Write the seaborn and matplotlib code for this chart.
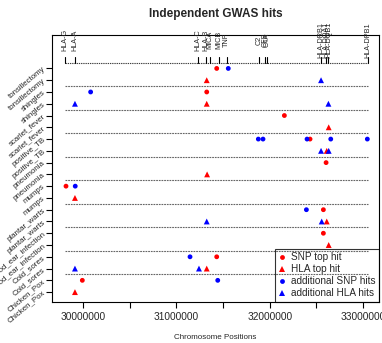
import numpy as np
import pandas as pd
import matplotlib
matplotlib.use("Agg")
import matplotlib.pyplot as plt
import seaborn as sns

# ---------------- data ----------------
traits = ["tonsillectomy", "shingles", "scarlet_fever", "positive_TB", "pneumonia",
          "mumps", "plantar_warts", "Childhood_ear_infection", "Cold_sores", "Chicken_Pox"]

# SNP top hits (red circles)
snp_top_trait = ["tonsillectomy", "shingles", "scarlet_fever", "positive_TB", "pneumonia",
                 "mumps", "plantar_warts", "Childhood_ear_infection", "Cold_sores", "Chicken_Pox"]
snp_top_pos = [31433000, 31326000, 32158000, 32433000, 32605000,
               29818000, 32576000, 32576000, 31433000, 29993000]

# HLA top hits (red triangles)
hla_top_trait = ["tonsillectomy", "shingles", "scarlet_fever", "positive_TB", "pneumonia",
                 "mumps", "plantar_warts", "Childhood_ear_infection", "Cold_sores", "Chicken_Pox"]
hla_top_pos = [31326000, 31326000, 32633000, 32612000, 31330000,
               29914000, 32612000, 32633000, 31326000, 29914000]

# additional SNP hits (blue circles)
snp_add_trait = ["tonsillectomy", "shingles", "positive_TB", "positive_TB", "positive_TB",
                 "positive_TB", "positive_TB", "mumps", "plantar_warts", "Cold_sores", "Chicken_Pox"]
snp_add_pos = [31557000, 30082000, 31879000, 31929000, 32401000,
               32655000, 33047000, 29917000, 32394000, 31147000, 31444000]

# additional HLA hits (blue triangles)
hla_add_trait = ["tonsillectomy", "shingles", "shingles", "positive_TB", "positive_TB",
                 "plantar_warts", "plantar_warts", "Cold_sores", "Cold_sores"]
hla_add_pos = [32551000, 29914000, 32630000, 32551000, 32633000,
               31326000, 32558000, 29914000, 31243000]

# genes along the top
gene_names = ["HLA-G", "HLA-A", "HLA-C", "HLA-B", "MICA", "MICB", "TNF",
              "C2", "CFB", "C4A", "HLA-DRB1", "HLA-DQA1", "HLA-DQB1", "HLA-DPB1"]
gene_pos = [29807000, 29914000, 31235000, 31318000, 31361000, 31461000, 31540000,
            31886000, 31950000, 31975000, 32550000, 32600000, 32630000, 33055000]

x_tick_pos = [30000000, 30500000, 31000000, 31500000, 32000000, 32500000, 33000000]
x_tick_lab = ["30000000", "", "31000000", "", "32000000", "", "33000000"]

kind_labels = ["SNP top hit", "HLA top hit", "additional SNP hits", "additional HLA hits"]

# ---------------- build table ----------------
n = len(traits)
circle_row = {t: 2 * (n - i) for i, t in enumerate(traits)}
tri_row = {t: 2 * (n - i) - 1 for i, t in enumerate(traits)}

rows = []
for t, p in zip(snp_top_trait, snp_top_pos):
    rows.append((p, circle_row[t], kind_labels[0]))
for t, p in zip(hla_top_trait, hla_top_pos):
    rows.append((p, tri_row[t], kind_labels[1]))
for t, p in zip(snp_add_trait, snp_add_pos):
    rows.append((p, circle_row[t], kind_labels[2]))
for t, p in zip(hla_add_trait, hla_add_pos):
    rows.append((p, tri_row[t], kind_labels[3]))
df = pd.DataFrame(rows, columns=["pos", "row", "kind"])

# ---------------- plot ----------------
sns.set_style("white")
plt.rcParams["font.family"] = ["Liberation Sans", "DejaVu Sans"]

fig = plt.figure(figsize=(3.82, 3.43), dpi=100)
ax = fig.add_axes([52 / 382, 1 - 302 / 343, (379 - 52) / 382, (302 - 35) / 343])

gmin, gmax = min(gene_pos), max(gene_pos)
# dashed separators between traits
for k in range(1, n):
    yv = 2 * k + 0.5
    ax.plot([gmin, gmax], [yv, yv], color="0.4", lw=0.8, ls=(0, (1.6, 0.8)), zorder=1)
# gene baseline and markers
top_line = 2 * n + 0.5
ax.plot([gmin, gmax], [top_line, top_line], color="0.25", lw=0.8, ls=(0, (1.2, 0.8)), zorder=1)
for g, p in zip(gene_names, gene_pos):
    ax.plot([p, p], [top_line, top_line + 0.5], color="black", lw=0.8, zorder=2)
    ax.text(p, top_line + 1.9, g, rotation=90, ha="center", va="center",
            fontsize=5.2, clip_on=False)

pal = {kind_labels[0]: "#FF0000", kind_labels[1]: "#FF0000",
       kind_labels[2]: "#0000FF", kind_labels[3]: "#0000FF"}
mk = {kind_labels[0]: "o", kind_labels[1]: "^", kind_labels[2]: "o", kind_labels[3]: "^"}
sz = {kind_labels[0]: 12, kind_labels[1]: 18, kind_labels[2]: 12, kind_labels[3]: 18}
sns.scatterplot(data=df, x="pos", y="row", hue="kind", style="kind", size="kind",
                hue_order=kind_labels, style_order=kind_labels, size_order=kind_labels,
                palette=pal, markers=mk, sizes=sz, linewidth=0, ax=ax, zorder=3, legend=True)

ax.set_xlim(29668000, 33172000)
ax.set_ylim(0.16, 22.84)

ax.set_xticks(x_tick_pos)
ax.set_xticklabels(x_tick_lab, fontsize=7.3)
ylabels = []
for t in traits:
    ylabels += [t, t]
ax.set_yticks(list(range(2 * n, 0, -1)))
ax.set_yticklabels(ylabels, fontsize=5.7, rotation=40, ha="right", va="center",
                   rotation_mode="anchor")
ax.tick_params(axis="both", direction="out", length=4, width=0.8, color="black",
               left=True, bottom=True)
ax.tick_params(axis="x", pad=3)
ax.tick_params(axis="y", pad=1.5)

for s in ax.spines.values():
    s.set_visible(True)
    s.set_color("black")
    s.set_linewidth(0.8)

ax.set_xlabel("Chromosome Positions", fontsize=5.8, labelpad=9)
ax.set_ylabel("")
ax.set_title("Independent GWAS hits", fontsize=8.5, fontweight="bold", pad=13)

h, l = ax.get_legend_handles_labels()
leg = ax.legend(h, l, loc="lower right", fontsize=7.2, frameon=True, fancybox=False,
                borderaxespad=0, handlelength=0.8, handletextpad=0.5, labelspacing=0.2,
                borderpad=0.35, markerscale=1.0)
leg.get_frame().set_edgecolor("black")
leg.get_frame().set_facecolor("none")
leg.get_frame().set_linewidth(0.8)

fig.savefig("out.png", dpi=100)
